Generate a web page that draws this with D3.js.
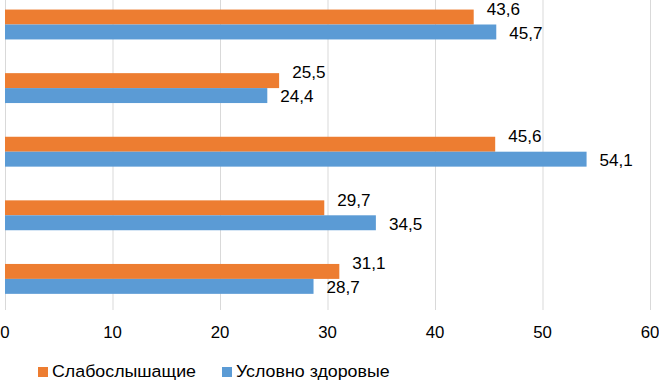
<!DOCTYPE html>
<html>
<head>
<meta charset="utf-8">
<script src="https://cdn.jsdelivr.net/npm/d3@7"></script>
<style>
  body { margin: 0; background: #fff; }
  svg { display: block; font-family: "Liberation Sans", Arial, sans-serif; }
</style>
</head>
<body>
<div id="container"></div>
<script>
// categories top to bottom (their names are cut off in the picture)
const categories = ["Группа 1", "Группа 2", "Группа 3", "Группа 4", "Группа 5"];
const seriesNames = ["Слабослышащие", "Условно здоровые"];
const hardOfHearing = [43.6, 25.5, 45.6, 29.7, 31.1];
const healthy = [45.7, 24.4, 54.1, 34.5, 28.7];
const xTicks = [0, 10, 20, 30, 40, 50, 60];

const colors = ["#ED7D31", "#5B9BD5"];

const width = 659;
const height = 381;

const svg = d3.create("svg")
    .attr("width", width)
    .attr("height", height);

const x = d3.scaleLinear()
    .domain([0, 60])
    .range([5, 650]);

const y = d3.scaleBand()
    .domain(categories)
    .range([-7.3, 310.7])
    .paddingInner(0.53)
    .paddingOuter(0.265);

const ySub = d3.scaleBand()
    .domain(seriesNames)
    .range([0, y.bandwidth()]);

// vertical gridlines
svg.append("g")
    .selectAll("line")
    .data(xTicks)
    .join("line")
    .attr("x1", d => x(d) + 0.5)
    .attr("x2", d => x(d) + 0.5)
    .attr("y1", 0)
    .attr("y2", 310)
    .attr("stroke", "#d9d9d9")
    .attr("stroke-width", 1);

// x tick labels
svg.append("g")
    .selectAll("text")
    .data(xTicks)
    .join("text")
    .attr("transform", d => `translate(${x(d)},338) scale(1.05,1)`)
    .attr("text-anchor", "middle")
    .attr("font-size", 16)
    .attr("fill", "#000")
    .text(d => d);

const rows = categories.map((c, i) => ({
    cat: c,
    vals: [hardOfHearing[i], healthy[i]]
}));

const fmt = v => d3.format(".1f")(v).replace(".", ",");
const labelShift = [-8, 1];

const groups = svg.append("g")
    .selectAll("g")
    .data(rows)
    .join("g")
    .attr("transform", d => `translate(0,${y(d.cat)})`);

groups.selectAll("rect")
    .data(d => d.vals.map((v, j) => ({ s: seriesNames[j], v, j })))
    .join("rect")
    .attr("x", x(0))
    .attr("y", d => ySub(d.s))
    .attr("width", d => x(d.v) - x(0))
    .attr("height", ySub.bandwidth())
    .attr("fill", d => colors[d.j]);

groups.selectAll("text")
    .data(d => d.vals.map((v, j) => ({ s: seriesNames[j], v, j })))
    .join("text")
    .attr("transform", d => `translate(${x(d.v) + 13},${ySub(d.s) + ySub.bandwidth() / 2 + labelShift[d.j]}) scale(1.07,1)`)
    .attr("dy", "0.36em")
    .attr("font-size", 16)
    .attr("fill", "#000")
    .text(d => fmt(d.v));

// legend
const legendX = [38, 222];
const legend = svg.append("g")
    .selectAll("g")
    .data(seriesNames)
    .join("g")
    .attr("transform", (d, i) => `translate(${legendX[i]},0)`);

legend.append("rect")
    .attr("x", 0)
    .attr("y", 367)
    .attr("width", 10)
    .attr("height", 10)
    .attr("fill", (d, i) => colors[i]);

legend.append("text")
    .attr("transform", "translate(14,377) scale(1.08,1)")
    .attr("font-size", 16.5)
    .attr("fill", "#000")
    .text(d => d);

document.getElementById("container").append(svg.node());
</script>
</body>
</html>
